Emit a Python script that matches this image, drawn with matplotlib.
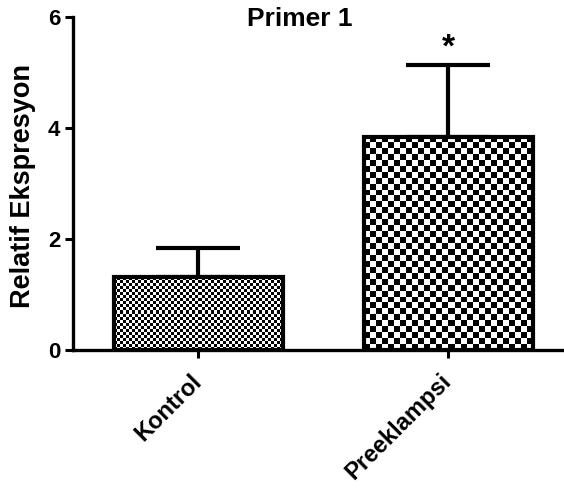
import numpy as np
import matplotlib
matplotlib.use("Agg")
import matplotlib.pyplot as plt

categories = ["Kontrol", "Preeklampsi"]
means = [1.31, 3.84]
errors = [0.52, 1.30]
yticks = [0, 2, 4, 6]
title = "Primer 1"
ylabel = "Relatif Ekspresyon"
star = "*"

plt.rcParams['font.family'] = ['Liberation Sans', 'DejaVu Sans']
plt.rcParams['font.weight'] = 'bold'

W, H = 564, 493
fig = plt.figure(figsize=(W / 100, H / 100), dpi=100)
ax = fig.add_axes([73 / W, (H - 350) / H, 491 / W, 333 / H])

x = np.arange(len(categories))
width = 0.676
ax.set_xlim(-0.5, 1.464)
ax.set_ylim(0, 6)

bars = ax.bar(x, means, width=width, facecolor='none', edgecolor='black',
              linewidth=3.0, zorder=3)
cells = [3, 6]
fig.canvas.draw()
for b, c in zip(bars, cells):
    x0, y0 = b.get_x(), b.get_y()
    x1, y1 = x0 + b.get_width(), y0 + b.get_height()
    p0 = ax.transData.transform((x0, y0))
    p1 = ax.transData.transform((x1, y1))
    wpx, hpx = p1[0] - p0[0], p1[1] - p0[1]
    nx, ny = max(int(round(wpx / c)), 1), max(int(round(hpx / c)), 1)
    ii, jj = np.indices((ny, nx))
    img = ((ii + jj) % 2).astype(float)
    im = ax.imshow(img, cmap='gray', vmin=0, vmax=1, extent=(x0, x1, y0, y1),
                   aspect='auto', interpolation='nearest', zorder=2.5, origin='lower')
    im.set_clip_path(b)
ax.set_xlim(-0.5, 1.464)
ax.set_ylim(0, 6)
ax.set_aspect('auto')

ax.errorbar(x, means, yerr=[np.zeros(len(errors)), errors], fmt='none',
            ecolor='black', elinewidth=3.0, capsize=30, capthick=3.0, zorder=2)

ax.text(x[1], means[1] + errors[1] + 0.3, star, ha='center', va='center',
        fontsize=24, fontweight='bold')

for s in ['top', 'right']:
    ax.spines[s].set_visible(False)
for s in ['left', 'bottom']:
    ax.spines[s].set_linewidth(2.4)
ax.spines['bottom'].set_zorder(4)

ax.set_yticks(yticks)
ax.set_yticklabels([str(t) for t in yticks], fontsize=16, fontweight='bold')
ax.set_xticks(x)
ax.set_xticklabels(categories, rotation=45, ha='right', va='center',
                   rotation_mode='anchor', fontsize=17, fontweight='bold')
ax.tick_params(axis='both', direction='out', length=6, width=2.2, pad=3)
ax.tick_params(axis='x', pad=14)

fig.text(300 / W, 1 - 19 / H, title, ha='center', va='center',
         fontsize=19, fontweight='bold')
fig.text(23 / W, 1 - 186 / H, ylabel, ha='center', va='center', rotation=90,
         fontsize=19.5, fontweight='bold')

fig.savefig("out.png", dpi=100)
